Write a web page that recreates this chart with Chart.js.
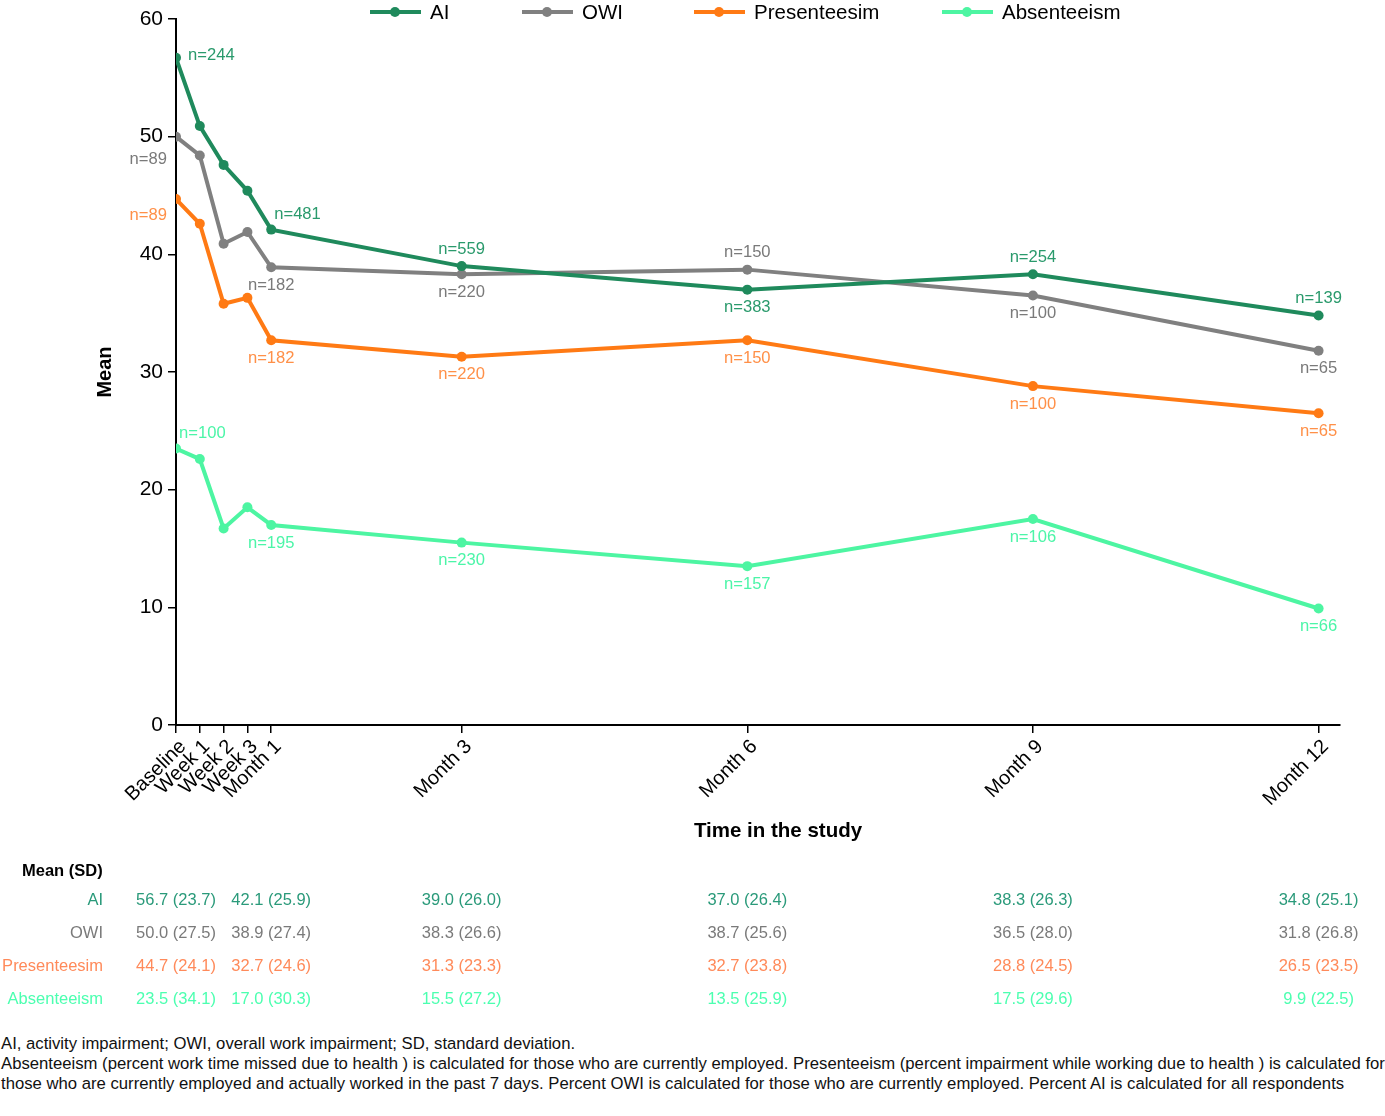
<!DOCTYPE html>
<html>
<head>
<meta charset="utf-8">
<script src="https://cdn.jsdelivr.net/npm/chart.js@4.4.1/dist/chart.umd.min.js"></script>
<style>
body { margin:0; background:#fff; font-family:"Liberation Sans", Arial, sans-serif; }
#wrap { position:relative; width:1385px; height:1116px; overflow:hidden; }
#notes { position:absolute; left:1px; top:1034px; font-size:16.7px; line-height:20px; color:#111; white-space:nowrap; }
</style>
</head>
<body>
<div id="wrap">
<canvas id="myChart" width="1385" height="1030"></canvas>
<div id="notes">AI, activity impairment; OWI, overall work impairment; SD, standard deviation.<br>Absenteeism (percent work time missed due to health ) is calculated for those who are currently employed. Presenteeism (percent impairment while working due to health ) is calculated for<br>those who are currently employed and actually worked in the past 7 days. Percent OWI is calculated for those who are currently employed. Percent AI is calculated for all respondents</div>
</div>
<script>
// time points (x in weeks since baseline)
var categories = ['Baseline','Week 1','Week 2','Week 3','Month 1','Month 3','Month 6','Month 9','Month 12'];
var weeks = [0,1,2,3,4,12,24,36,48];
var yTicks = [0,10,20,30,40,50,60];

var seriesNames = ['AI','OWI','Presenteesim','Absenteeism'];
var aiMean   = [56.7,50.9,47.6,45.4,42.1,39.0,37.0,38.3,34.8];
var owiMean  = [50.0,48.4,40.9,41.9,38.9,38.3,38.7,36.5,31.8];
var presMean = [44.7,42.6,35.8,36.3,32.7,31.3,32.7,28.8,26.5];
var absMean  = [23.5,22.6,16.7,18.5,17.0,15.5,13.5,17.5,9.9];

var aiSD   = [23.7,null,null,null,25.9,26.0,26.4,26.3,25.1];
var owiSD  = [27.5,null,null,null,27.4,26.6,25.6,28.0,26.8];
var presSD = [24.1,null,null,null,24.6,23.3,23.8,24.5,23.5];
var absSD  = [34.1,null,null,null,30.3,27.2,25.9,29.6,22.5];

var aiN   = [244,null,null,null,481,559,383,254,139];
var owiN  = [89,null,null,null,182,220,150,100,65];
var presN = [89,null,null,null,182,220,150,100,65];
var absN  = [100,null,null,null,195,230,157,106,66];

// where each n= label sits relative to its point
var aiNPos   = ['right','','','','aboveRight','above','below','above','above'];
var owiNPos  = ['belowLeft','','','','below','below','above','below','below'];
var presNPos = ['left','','','','below','below','below','below','below'];
var absNPos  = ['aboveRight','','','','below','below','below','below','below'];

var lineColors  = ['#1f8a5c','#808080','#ff7a14','#4df5a2'];
var labelColors = ['#2a9a6c','#7a7a7a','#ff9048','#4cf5a8'];
var tableColors = ['#2a9a7a','#7a7a7a','#ff8a5a','#4cffb0'];

var means = [aiMean,owiMean,presMean,absMean];
var sds = [aiSD,owiSD,presSD,absSD];
var ns = [aiN,owiN,presN,absN];
var nPos = [aiNPos,owiNPos,presNPos,absNPos];

var FONT = '"Liberation Sans", Arial';

function pts(vals){
    var out = [];
    for(var i=0;i<vals.length;i++) out.push({x:weeks[i], y:vals[i]});
    return out;
}

var datasets = [];
for(var s=0;s<seriesNames.length;s++){
    datasets.push({
        label: seriesNames[s],
        data: pts(means[s]),
        borderColor: lineColors[s],
        backgroundColor: lineColors[s],
        borderWidth: 4,
        pointRadius: 5,
        pointBorderWidth: 0,
        tension: 0
    });
}

var nLabels = {
    id: 'nLabels',
    afterDatasetsDraw: function(chart){
        var ctx = chart.ctx;
        ctx.save();
        ctx.font = '16.6px ' + FONT;
        ctx.textBaseline = 'middle';
        for(var s=0;s<ns.length;s++){
            var meta = chart.getDatasetMeta(s);
            ctx.fillStyle = labelColors[s];
            for(var i=0;i<ns[s].length;i++){
                if(ns[s][i]==null) continue;
                var p = meta.data[i];
                var txt = 'n=' + ns[s][i];
                var kind = nPos[s][i];
                var x = p.x, y = p.y;
                if(kind=='above'){ ctx.textAlign='center'; y-=17; }
                else if(kind=='below'){ ctx.textAlign='center'; y+=18; }
                else if(kind=='right'){ ctx.textAlign='left'; x+=12; y-=2; }
                else if(kind=='aboveRight'){ ctx.textAlign='left'; x+=3; y-=15; }
                else if(kind=='belowLeft'){ ctx.textAlign='right'; x-=9; y+=23; }
                else if(kind=='left'){ ctx.textAlign='right'; x-=9; y+=16; }
                ctx.fillText(txt, x, y);
            }
        }
        ctx.restore();
    }
};

// legend and x title drawn by hand so they sit where the original puts them
var legendX = [370,522,694,942];
var decor = {
    id: 'decor',
    afterDraw: function(chart){
        var ctx = chart.ctx;
        ctx.save();
        ctx.font = '20.5px ' + FONT;
        ctx.textBaseline = 'middle';
        ctx.textAlign = 'left';
        var y = 12;
        for(var s=0;s<seriesNames.length;s++){
            var x = legendX[s];
            ctx.strokeStyle = lineColors[s];
            ctx.lineWidth = 4;
            ctx.beginPath(); ctx.moveTo(x, y); ctx.lineTo(x+51, y); ctx.stroke();
            ctx.fillStyle = lineColors[s];
            ctx.beginPath(); ctx.arc(x+25, y, 5, 0, Math.PI*2); ctx.fill();
            ctx.fillStyle = '#000';
            ctx.fillText(seriesNames[s], x+60, y+1);
        }
        ctx.font = 'bold 20.5px ' + FONT;
        ctx.textAlign = 'center';
        ctx.fillText('Time in the study', 778, 831);
        ctx.restore();
    }
};

var meanTable = {
    id: 'meanTable',
    afterDraw: function(chart){
        var ctx = chart.ctx;
        var xs = chart.scales.x;
        ctx.save();
        ctx.textBaseline = 'middle';
        ctx.font = 'bold 16.5px ' + FONT;
        ctx.fillStyle = '#000';
        ctx.textAlign = 'left';
        ctx.fillText('Mean (SD)', 22, 871);
        var rowY = [900.5,933.5,966.5,999];
        ctx.font = '16.5px ' + FONT;
        for(var s=0;s<seriesNames.length;s++){
            ctx.fillStyle = tableColors[s];
            ctx.textAlign = 'right';
            ctx.fillText(seriesNames[s], 103, rowY[s]);
            ctx.textAlign = 'center';
            for(var i=0;i<sds[s].length;i++){
                if(sds[s][i]==null) continue;
                var txt = means[s][i].toFixed(1) + ' (' + sds[s][i].toFixed(1) + ')';
                ctx.fillText(txt, xs.getPixelForValue(weeks[i]), rowY[s]);
            }
        }
        ctx.restore();
    }
};

var ctx = document.getElementById('myChart').getContext('2d');
var myChart = new Chart(ctx, {
    type: 'line',
    data: { datasets: datasets },
    plugins: [nLabels, decor, meanTable],
    options: {
        responsive: false,
        animation: false,
        layout: { padding: { top: 19, right: 45, bottom: 180, left: 0 } },
        plugins: { legend: { display: false }, tooltip: { enabled: false } },
        scales: {
            x: {
                type: 'linear',
                min: 0,
                max: 48.9,
                afterBuildTicks: function(scale){
                    scale.ticks = weeks.map(function(w){ return {value:w}; });
                },
                afterFit: function(scale){ scale.height = 125; },
                ticks: {
                    autoSkip: false,
                    minRotation: 45,
                    maxRotation: 45,
                    labelOffset: 7,
                    color: '#000',
                    padding: 2,
                    font: { size: 20, family: FONT },
                    callback: function(v){ return categories[weeks.indexOf(v)]; }
                },
                grid: { drawOnChartArea: false, drawTicks: true, tickLength: 8, color: '#000', lineWidth: 1.5 },
                border: { color: '#000', width: 2 }
            },
            y: {
                min: 0,
                max: 60,
                afterBuildTicks: function(scale){
                    scale.ticks = yTicks.map(function(v){ return {value:v}; });
                },
                afterFit: function(scale){ scale.width = 176; },
                ticks: {
                    color: '#000',
                    padding: 5,
                    font: { size: 21, family: FONT }
                },
                grid: { drawOnChartArea: false, drawTicks: true, tickLength: 8, color: '#000', lineWidth: 1.5 },
                border: { color: '#000', width: 2 },
                title: {
                    display: true,
                    text: 'Mean',
                    color: '#000',
                    font: { size: 20, weight: 'bold', family: FONT },
                    padding: { top: 93, bottom: 0 }
                }
            }
        }
    }
});
</script>
</body>
</html>
